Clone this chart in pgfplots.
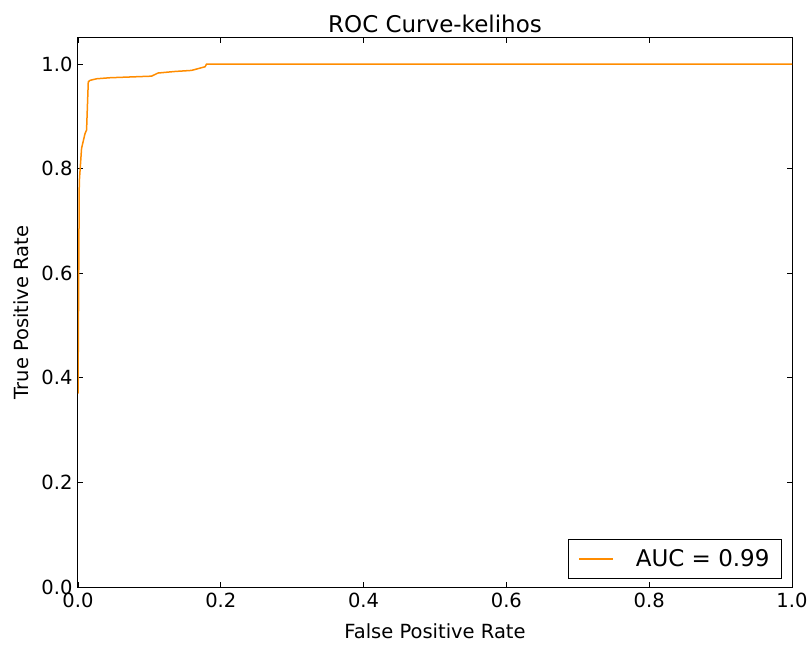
\documentclass[border=0pt]{standalone}
\usepackage{pgfplots}
\pgfplotsset{compat=1.18}
\usepackage{fontspec}
\setmainfont{DejaVu Sans}
\definecolor{darkorange}{RGB}{255,140,0}
\begin{document}
\begin{tikzpicture}[x=1pt,y=1pt]
\begin{axis}[
  scale only axis,
  width=714pt, height=549pt,
  xmin=0, xmax=1, ymin=0, ymax=1.05,
  xtick={0,0.2,0.4,0.6,0.8,1.0},
  ytick={0,0.2,0.4,0.6,0.8,1.0},
  xticklabels={0.0,0.2,0.4,0.6,0.8,1.0},
  yticklabels={0.0,0.2,0.4,0.6,0.8,1.0},
  tick align=inside,
  major tick length=5pt,
  tick style={black, line width=0.8pt},
  axis line style={black, line width=1pt},
  ticklabel style={font=\fontsize{19.5}{22}\selectfont},
  xticklabel style={yshift=-2pt},
  yticklabel style={xshift=-2pt},
  /pgf/number format/assume math mode=true,
  title={ROC Curve-kelihos},
  title style={font=\fontsize{23}{26}\selectfont, yshift=-4pt},
  xlabel={False Positive Rate},
  ylabel={True Positive Rate},
  label style={font=\fontsize{19.5}{22}\selectfont},
  xlabel style={yshift=-10pt},
  ylabel style={yshift=6pt},
  legend style={font=\fontsize{23}{26}\selectfont, draw=black, line width=1pt, inner xsep=10pt, inner ysep=8pt, at={(0.986,0.0146)}, anchor=south east, cells={anchor=west}},
  legend cell align=left,
  legend image code/.code={\draw[darkorange, line width=1.5pt] (4pt,0pt) -- (38pt,0pt);},
]
\addplot[darkorange, line width=1.5pt] coordinates {
(0,0.37) (0.0018,0.775) (0.005,0.839) (0.0098,0.867) (0.012,0.874)
(0.0144,0.966) (0.0168,0.969) (0.026,0.972) (0.045,0.974) (0.103,0.977)
(0.112,0.983) (0.136,0.986) (0.159,0.988) (0.178,0.995) (0.180,1.0) (1.0,1.0)
};
\addlegendentry{\hspace{20pt}AUC = 0.99}
\end{axis}
\path ([shift={(-78pt,-59pt)}]current axis.south west) rectangle ([shift={(20pt,38pt)}]current axis.north east);
\end{tikzpicture}
\end{document}
